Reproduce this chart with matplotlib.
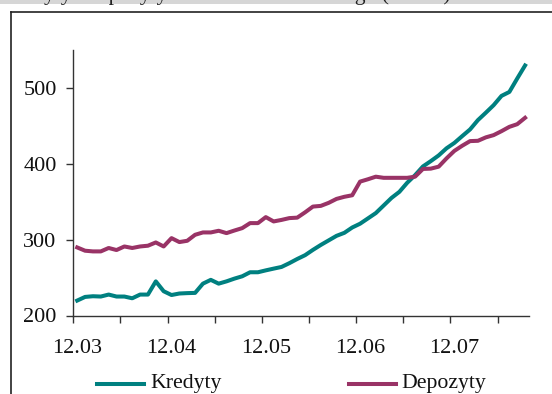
import matplotlib
matplotlib.use("Agg")
import matplotlib.pyplot as plt
from matplotlib.lines import Line2D
from matplotlib.patches import Rectangle
import numpy as np

plt.rcParams['font.family'] = ['Liberation Serif', 'DejaVu Serif']

# monthly data, Dec 2003 .. Sep 2008
kredyty = [219.7, 224.5, 225.4, 225.0, 227.6, 225.0, 225.0, 222.7, 227.6, 227.6,
           245.0, 232.0, 227.0, 229.0, 229.5, 229.8, 242.0, 247.0, 242.0, 245.0,
           248.6, 251.7, 257.0, 257.0, 259.5, 261.8, 264.0, 269.0, 274.5, 279.5,
           286.5, 293.0, 299.0, 305.0, 309.0, 316.0, 321.0, 328.0, 335.0, 345.0,
           355.0, 363.0, 375.0, 385.0, 396.5, 403.5, 411.0, 420.4, 427.5, 436.5,
           445.3, 457.6, 467.3, 477.3, 489.5, 494.7, 512.4, 529.6]
depozyty = [289.7, 285.4, 284.5, 284.5, 289.0, 286.3, 291.0, 289.0, 291.0, 292.0,
            296.3, 291.0, 302.0, 296.8, 298.5, 306.4, 309.5, 309.5, 311.7, 308.6,
            312.0, 315.2, 321.8, 321.8, 329.7, 324.0, 326.0, 328.4, 329.0, 336.0,
            343.6, 344.5, 348.5, 353.7, 356.5, 358.5, 376.5, 379.6, 383.0, 381.5,
            381.5, 381.5, 381.5, 383.0, 393.2, 393.6, 396.2, 407.1, 417.0, 423.8,
            429.9, 430.3, 434.8, 437.8, 443.0, 448.7, 452.2, 460.6]
tick_labels = ['12.03', '12.04', '12.05', '12.06', '12.07']
label_pos = [0, 12, 24, 36, 48]
series_names = ['Kredyty', 'Depozyty']
colors = ['#008080', '#993366']

W, H = 552, 394
fig = plt.figure(figsize=(W / 100, H / 100), dpi=100)

def fx(px):
    return px / W

def fy(py):
    return 1 - py / H

# top grey strip with clipped caption (as in the reference)
fig.patches.append(Rectangle((0, fy(3.5)), 1, 3.5 / H, transform=fig.transFigure,
                             facecolor='#d6d6d6', edgecolor='none', zorder=0))
fig.text(fx(1), fy(0.3), 'Kredyty i depozyty sektora niefinansowego (mld zł)',
         fontsize=15.5, va='baseline', ha='left', color='#222222')

# outer frame (only top and left visible)
fig.lines.append(Line2D([fx(11), fx(11)], [fy(12), 0], transform=fig.transFigure,
                        color='#222222', lw=1.2))
fig.lines.append(Line2D([fx(11), 1], [fy(12), fy(12)], transform=fig.transFigure,
                        color='#222222', lw=1.2))

left, right, top, bottom = 73.3, 529, 50, 315.5
ax = fig.add_axes([fx(left), fy(bottom), fx(right) - fx(left), fy(top) - fy(bottom)])

x = np.arange(len(kredyty))
ax.plot(x, kredyty, color=colors[0], lw=2.9, solid_joinstyle='round', clip_on=False)
ax.plot(x, depozyty, color=colors[1], lw=2.9, solid_joinstyle='round', clip_on=False)

ax.set_xlim(-0.5, len(kredyty) - 0.5)
ax.set_ylim(200, 550)

for s in ['top', 'right']:
    ax.spines[s].set_visible(False)
for s in ['left', 'bottom']:
    ax.spines[s].set_color('#333333')
    ax.spines[s].set_linewidth(1.0)

ax.set_yticks([200, 300, 400, 500])
ax.tick_params(axis='y', direction='out', length=5, width=1, color='#333333',
               labelsize=16, pad=7, labelcolor='#111111')

ax.set_xticks(label_pos)
ax.set_xticklabels(tick_labels)
ax.set_xticks(np.arange(-0.5, len(kredyty) - 1, 6), minor=True)
ax.tick_params(axis='x', which='major', length=0, labelsize=16, pad=17,
               labelcolor='#111111')
ax.tick_params(axis='x', which='minor', direction='out', length=5, width=1,
               color='#333333')

# legend
ly = 383.5
fig.lines.append(Line2D([fx(97), fx(144)], [fy(ly), fy(ly)], transform=fig.transFigure,
                        color=colors[0], lw=2.9))
fig.text(fx(150), fy(ly), series_names[0], fontsize=15.7, va='center', ha='left',
         color='#111111')
fig.lines.append(Line2D([fx(349), fx(396)], [fy(ly), fy(ly)], transform=fig.transFigure,
                        color=colors[1], lw=2.9))
fig.text(fx(401), fy(ly), series_names[1], fontsize=15.7, va='center', ha='left',
         color='#111111')

fig.savefig('out.png', dpi=100)
